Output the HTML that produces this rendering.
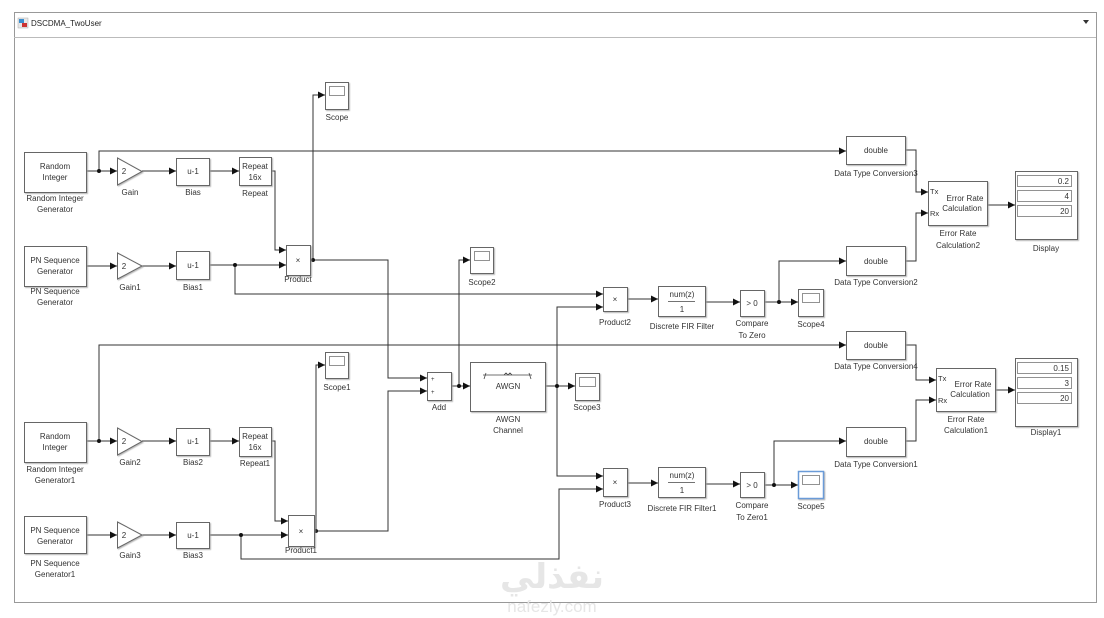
<!DOCTYPE html>
<html><head><meta charset="utf-8"><style>
html,body{margin:0;padding:0;background:#fff;}
svg{display:block;}
text{font-family:"Liberation Sans",sans-serif;font-size:8px;fill:#333;}
.b{fill:#fff;stroke:#666;stroke-width:1;}
.w{fill:none;stroke:#333;stroke-width:1;}
.l{text-anchor:middle;}
</style></head><body>
<svg width="1104" height="618" viewBox="0 0 1104 618" xmlns="http://www.w3.org/2000/svg">
<defs>
<marker id="a" markerWidth="8" markerHeight="8" refX="7" refY="4" orient="auto" markerUnits="userSpaceOnUse">
<path d="M0,0.5 L7,4 L0,7.5 Z" fill="#111"/></marker>
<filter id="s" x="-10%" y="-10%" width="130%" height="130%"><feDropShadow dx="1" dy="1" stdDeviation="0.6" flood-color="#999" flood-opacity="0.7"/></filter>
</defs>
<!-- frame -->
<rect x="14.5" y="12.5" width="1082" height="590" fill="#fff" stroke="#999"/>
<line x1="14" y1="37.5" x2="1096" y2="37.5" stroke="#bbb"/>
<rect x="18" y="18" width="10" height="10" fill="#e8e8e8" stroke="#aaa" stroke-width="0.5"/>
<rect x="19" y="19" width="5" height="4" fill="#3a8fd0"/><rect x="22" y="23" width="5" height="4" fill="#c33"/>
<text x="31" y="26" style="font-size:8px;fill:#222">DSCDMA_TwoUser</text>
<path d="M1083,20 L1089,20 L1086,24 Z" fill="#333"/>

<!-- wires -->
<g class="w" marker-end="url(#a)">
<polyline points="86,171 117,171"/>
<polyline points="99,171 99,151 846,151"/>
<polyline points="142,171 176,171"/>
<polyline points="209,171 239,171"/>
<polyline points="271,171 275,171 275,250 286,250"/>
<polyline points="86,266 117,266"/>
<polyline points="142,266 176,266"/>
<polyline points="209,265 286,265"/>
<polyline points="235,265 235,294 603,294"/>
<polyline points="310,260 388,260 388,378 427,378"/>
<polyline points="313,260 313,95 325,95"/>
<polyline points="451,386 470,386"/>
<polyline points="459,386 459,260 470,260"/>
<polyline points="545,386 575,386"/>
<polyline points="557,386 557,307 603,307"/>
<polyline points="557,386 557,476 603,476"/>
<polyline points="627,299 658,299"/>
<polyline points="705,302 740,302"/>
<polyline points="764,302 798,302"/>
<polyline points="779,302 779,261 846,261"/>
<polyline points="905,150 916,150 916,192 928,192"/>
<polyline points="905,261 916,261 916,213 928,213"/>
<polyline points="987,205 1015,205"/>
<polyline points="86,441 117,441"/>
<polyline points="99,441 99,345 846,345"/>
<polyline points="142,441 176,441"/>
<polyline points="209,441 239,441"/>
<polyline points="271,441 275,441 275,521 288,521"/>
<polyline points="86,535 117,535"/>
<polyline points="142,535 176,535"/>
<polyline points="209,535 288,535"/>
<polyline points="241,535 241,559 559,559 559,489 603,489"/>
<polyline points="314,531 388,531 388,391 427,391"/>
<polyline points="316,531 316,365 325,365"/>
<polyline points="627,483 658,483"/>
<polyline points="705,484 740,484"/>
<polyline points="764,485 798,485"/>
<polyline points="774,485 774,441 846,441"/>
<polyline points="905,345 916,345 916,380 936,380"/>
<polyline points="905,441 916,441 916,400 936,400"/>
<polyline points="995,390 1015,390"/>
</g>
<g fill="#111">
<circle cx="99" cy="171" r="2"/><circle cx="235" cy="265" r="2"/><circle cx="313" cy="260" r="2"/>
<circle cx="459" cy="386" r="2"/><circle cx="557" cy="386" r="2"/><circle cx="779" cy="302" r="2"/>
<circle cx="99" cy="441" r="2"/><circle cx="241" cy="535" r="2"/><circle cx="316" cy="531" r="2"/>
<circle cx="774" cy="485" r="2"/>
</g>

<!-- blocks -->
<g filter="url(#s)">
<rect class="b" x="24.5" y="152.5" width="62" height="40"/>
<rect class="b" x="24.5" y="246.5" width="62" height="40"/>
<rect class="b" x="24.5" y="422.5" width="62" height="40"/>
<rect class="b" x="24.5" y="516.5" width="62" height="37"/>
<polygon class="b" points="117.5,158 117.5,185 142,171.5"/>
<polygon class="b" points="117.5,253 117.5,279 142,266"/>
<polygon class="b" points="117.5,428 117.5,455 142,441.5"/>
<polygon class="b" points="117.5,522 117.5,548 142,535"/>
<rect class="b" x="176.5" y="158.5" width="33" height="27"/>
<rect class="b" x="176.5" y="251.5" width="33" height="28"/>
<rect class="b" x="176.5" y="428.5" width="33" height="27"/>
<rect class="b" x="176.5" y="522.5" width="33" height="26"/>
<rect class="b" x="239.5" y="157.5" width="32" height="28"/>
<rect class="b" x="239.5" y="427.5" width="32" height="29"/>
<rect class="b" x="286.5" y="245.5" width="24" height="30"/>
<rect class="b" x="288.5" y="515.5" width="26" height="31"/>
<rect class="b" x="325.5" y="82.5" width="23" height="27"/>
<rect class="b" x="325.5" y="352.5" width="23" height="26"/>
<rect class="b" x="470.5" y="247.5" width="23" height="26"/>
<rect class="b" x="575.5" y="373.5" width="24" height="27"/>
<rect class="b" x="798.5" y="289.5" width="25" height="27"/>
<rect class="b" x="798.5" y="471.5" width="25" height="27" style="stroke:#6a9bd8;stroke-width:1.5"/>
<rect class="b" x="427.5" y="372.5" width="24" height="28"/>
<rect class="b" x="470.5" y="362.5" width="75" height="49"/>
<rect class="b" x="603.5" y="287.5" width="24" height="24"/>
<rect class="b" x="603.5" y="468.5" width="24" height="28"/>
<rect class="b" x="658.5" y="286.5" width="47" height="30"/>
<rect class="b" x="658.5" y="467.5" width="47" height="30"/>
<rect class="b" x="740.5" y="290.5" width="24" height="26"/>
<rect class="b" x="740.5" y="472.5" width="24" height="25"/>
<rect class="b" x="846.5" y="136.5" width="59" height="28"/>
<rect class="b" x="846.5" y="246.5" width="59" height="29"/>
<rect class="b" x="846.5" y="331.5" width="59" height="28"/>
<rect class="b" x="846.5" y="427.5" width="59" height="29"/>
<rect class="b" x="928.5" y="181.5" width="59" height="44"/>
<rect class="b" x="936.5" y="368.5" width="59" height="43"/>
<rect class="b" x="1015.5" y="171.5" width="62" height="68"/>
<rect class="b" x="1015.5" y="358.5" width="62" height="68"/>
</g>
<!-- scope screens -->
<g fill="#fff" stroke="#777" stroke-width="0.8">
<rect x="329.5" y="86.5" width="15" height="9"/>
<rect x="329.5" y="356.5" width="15" height="9"/>
<rect x="474.5" y="251.5" width="15" height="9"/>
<rect x="579.5" y="377.5" width="16" height="9"/>
<rect x="802.5" y="293.5" width="17" height="9"/>
<rect x="802.5" y="475.5" width="17" height="9"/>
</g>
<!-- display fields -->
<g fill="#fff" stroke="#777" stroke-width="0.8">
<rect x="1017.5" y="175.5" width="54" height="11"/><rect x="1017.5" y="190.5" width="54" height="11"/><rect x="1017.5" y="205.5" width="54" height="11"/>
<rect x="1017.5" y="362.5" width="54" height="11"/><rect x="1017.5" y="377.5" width="54" height="11"/><rect x="1017.5" y="392.5" width="54" height="11"/>
</g>
<g style="text-anchor:end">
<text x="1069" y="184">0.2</text><text x="1069" y="199">4</text><text x="1069" y="214">20</text>
<text x="1069" y="371">0.15</text><text x="1069" y="386">3</text><text x="1069" y="401">20</text>
</g>
<!-- FIR lines -->
<g stroke="#444" stroke-width="0.8">
<line x1="668" y1="301.5" x2="695" y2="301.5"/><line x1="668" y1="482.5" x2="695" y2="482.5"/>
</g>
<!-- AWGN icon -->
<path d="M483,375 L532,375 M486,373 L484,379 M529,373 L531,379 M504,375 l2,-2 l2,2 l2,-2 l2,2" fill="none" stroke="#444" stroke-width="0.8"/>
<!-- in-block text -->
<g class="l">
<text x="55" y="169">Random</text><text x="55" y="180">Integer</text>
<text x="55" y="263">PN Sequence</text><text x="55" y="274">Generator</text>
<text x="55" y="439">Random</text><text x="55" y="450">Integer</text>
<text x="55" y="533">PN Sequence</text><text x="55" y="544">Generator</text>
<text x="124" y="174">2</text><text x="124" y="269">2</text><text x="124" y="444">2</text><text x="124" y="538">2</text>
<text x="193" y="174">u-1</text><text x="193" y="268">u-1</text><text x="193" y="444">u-1</text><text x="193" y="538">u-1</text>
<text x="255" y="169">Repeat</text><text x="255" y="180">16x</text>
<text x="255" y="439">Repeat</text><text x="255" y="450">16x</text>
<text x="298" y="263">×</text><text x="301" y="534">×</text>
<text x="615" y="302">×</text><text x="615" y="485">×</text>
<text x="682" y="297">num(z)</text><text x="682" y="312">1</text>
<text x="682" y="478">num(z)</text><text x="682" y="493">1</text>
<text x="752" y="306">&gt; 0</text><text x="752" y="488">&gt; 0</text>
<text x="508" y="389">AWGN</text>
<text x="876" y="153">double</text><text x="876" y="264">double</text>
<text x="876" y="348">double</text><text x="876" y="444">double</text>
<text x="965" y="201">Error Rate</text><text x="962" y="211">Calculation</text>
<text x="973" y="387">Error Rate</text><text x="970" y="397">Calculation</text>
</g>
<text x="930" y="194" style="font-size:7.5px">Tx</text><text x="930" y="216" style="font-size:7.5px">Rx</text>
<text x="938" y="381" style="font-size:7.5px">Tx</text><text x="938" y="403" style="font-size:7.5px">Rx</text>
<text x="431" y="381" style="font-size:6px">+</text><text x="431" y="394" style="font-size:6px">+</text>
<!-- labels -->
<g class="l">
<text x="55" y="201">Random Integer</text><text x="55" y="212">Generator</text>
<text x="55" y="294">PN Sequence</text><text x="55" y="305">Generator</text>
<text x="55" y="472">Random Integer</text><text x="55" y="483">Generator1</text>
<text x="55" y="566">PN Sequence</text><text x="55" y="577">Generator1</text>
<text x="130" y="195">Gain</text><text x="130" y="290">Gain1</text><text x="130" y="465">Gain2</text><text x="130" y="558">Gain3</text>
<text x="193" y="195">Bias</text><text x="193" y="290">Bias1</text><text x="193" y="465">Bias2</text><text x="193" y="558">Bias3</text>
<text x="255" y="196">Repeat</text><text x="255" y="466">Repeat1</text>
<text x="298" y="282">Product</text><text x="301" y="553">Product1</text>
<text x="337" y="120">Scope</text><text x="337" y="390">Scope1</text>
<text x="482" y="285">Scope2</text><text x="587" y="410">Scope3</text>
<text x="811" y="327">Scope4</text><text x="811" y="509">Scope5</text>
<text x="439" y="410">Add</text>
<text x="508" y="422">AWGN</text><text x="508" y="433">Channel</text>
<text x="615" y="325">Product2</text><text x="615" y="507">Product3</text>
<text x="682" y="329">Discrete FIR Filter</text><text x="682" y="511">Discrete FIR Filter1</text>
<text x="752" y="326">Compare</text><text x="752" y="338">To Zero</text>
<text x="752" y="508">Compare</text><text x="752" y="520">To Zero1</text>
<text x="876" y="176">Data Type Conversion3</text><text x="876" y="285">Data Type Conversion2</text>
<text x="876" y="369">Data Type Conversion4</text><text x="876" y="467">Data Type Conversion1</text>
<text x="958" y="236">Error Rate</text><text x="958" y="248">Calculation2</text>
<text x="966" y="422">Error Rate</text><text x="966" y="433">Calculation1</text>
<text x="1046" y="251">Display</text><text x="1046" y="435">Display1</text>
</g>
<!-- watermark -->
<text x="552" y="588" style="font-family:'DejaVu Sans',sans-serif;font-size:34px;fill:#e6e6e6;font-weight:bold;text-anchor:middle">نفذلي</text>
<text x="552" y="612" style="font-size:17px;fill:#e6e6e6;text-anchor:middle">nafezly.com</text>
</svg>
</body></html>
